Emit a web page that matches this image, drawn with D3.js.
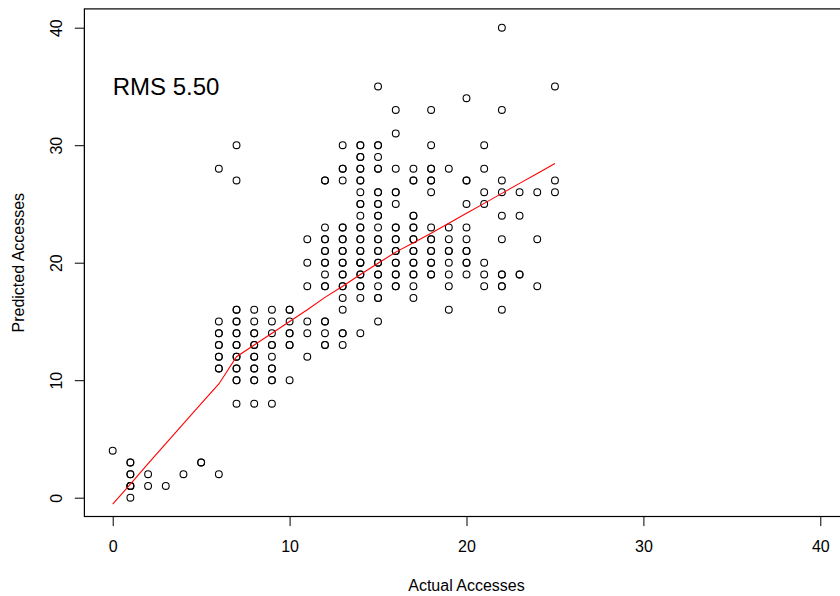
<!DOCTYPE html>
<html>
<head>
<meta charset="utf-8">
<script src="https://cdn.jsdelivr.net/npm/d3@7"></script>
<style>
  html, body { margin: 0; padding: 0; background: #fff; }
  svg { display: block; }
  text { font-family: "Liberation Sans", Arial, Helvetica, sans-serif; fill: #000; }
</style>
</head>
<body>
<svg id="chart" width="840" height="596"></svg>
<script>
// Predicted vs actual accesses, listed column by column (one entry per observation)
const pointColumns = [
  [0,  [4]],
  [1,  [3, 3, 2, 2, 1, 1, 1, 0]],
  [2,  [2, 1]],
  [3,  [1]],
  [4,  [2]],
  [5,  [3, 3]],
  [6,  [28, 15, 14, 14, 13, 13, 12, 12, 11, 11, 2]],
  [7,  [30, 27, 16, 16, 15, 15, 14, 14, 13, 13, 12, 12, 11, 11, 10, 10, 8]],
  [8,  [16, 15, 14, 14, 13, 13, 12, 12, 11, 11, 10, 10, 8]],
  [9,  [16, 15, 14, 13, 13, 12, 11, 11, 10, 10, 8]],
  [10, [16, 16, 15, 14, 14, 13, 13, 10]],
  [11, [22, 20, 18, 15, 14, 12]],
  [12, [27, 27, 23, 22, 22, 21, 21, 20, 20, 19, 18, 18, 15, 15, 14, 13, 13]],
  [13, [30, 28, 28, 27, 23, 23, 22, 22, 21, 21, 20, 20, 19, 19, 18, 18, 17, 16, 14, 14, 13]],
  [14, [30, 30, 29, 29, 28, 28, 27, 27, 26, 25, 25, 24, 23, 23, 22, 22, 21, 21, 20, 20, 20, 19, 19, 18, 18, 17, 14]],
  [15, [35, 30, 30, 29, 28, 28, 26, 26, 25, 25, 24, 24, 23, 22, 22, 21, 21, 20, 20, 19, 19, 18, 17, 17, 15]],
  [16, [33, 31, 28, 26, 26, 25, 23, 23, 22, 22, 21, 21, 20, 20, 19, 19, 18, 18]],
  [17, [28, 27, 27, 24, 24, 23, 23, 22, 22, 21, 21, 20, 20, 19, 19, 18, 17]],
  [18, [33, 30, 28, 28, 27, 27, 26, 23, 22, 22, 21, 21, 20, 20, 19, 19]],
  [19, [28, 23, 22, 21, 21, 20, 19, 18, 16]],
  [20, [34, 27, 27, 25, 23, 22, 21, 21, 20, 20, 19]],
  [21, [30, 28, 26, 25, 20, 19, 18]],
  [22, [40, 33, 27, 26, 24, 22, 19, 19, 18, 18, 16]],
  [23, [26, 24, 19, 19]],
  [24, [26, 22, 18]],
  [25, [35, 27, 26]]
];

// Smoothed trend (lowess) evaluated at each distinct actual value
const smoothX = [0, 1, 2, 3, 4, 5, 6, 7, 8, 9, 10, 11, 12, 13, 14, 15, 16, 17, 18, 19, 20, 21, 22, 23, 24, 25];
const smoothY = [-0.54, 1.15, 2.9, 4.6, 6.3, 8.0, 9.68, 12.0, 13.0, 14.0, 15.0, 16.0, 17.05, 18.0,
                 19.0, 19.95, 20.9, 21.7, 22.5, 23.35, 24.2, 25.05, 25.9, 26.75, 27.6, 28.45];

const xTicks = [0, 10, 20, 30, 40];
const yTicks = [0, 10, 20, 30, 40];
const xTitle = "Actual Accesses";
const yTitle = "Predicted Accesses";
const rmsLabel = "RMS 5.50";

// Flatten the columns into observation records
const points = pointColumns.flatMap(([a, preds]) => preds.map(p => ({ actual: a, predicted: p })));

const svg = d3.select("#chart");

// Plot region (the right side runs past the window edge)
const plot = { left: 84.4, right: 848.6, top: 8.9, bottom: 516.5 };

const x = d3.scaleLinear().domain([-1.6, 41.6]).range([plot.left, plot.right]);
const y = d3.scaleLinear().domain([-1.6, 41.6]).range([plot.bottom, plot.top]);

const fontSize = 16;
const lineH = 1.2 * fontSize;       // one margin line
const tickLen = 0.5 * lineH;

// Bottom axis
const xAxis = d3.axisBottom(x).tickValues(xTicks).tickSize(tickLen).tickPadding(0).tickFormat(d3.format("d"));
const gx = svg.append("g").attr("transform", `translate(0,${plot.bottom})`).call(xAxis);
gx.select(".domain").attr("d", `M${x(xTicks[0])},0H${x(xTicks[xTicks.length - 1])}`)
  .attr("stroke", "#000").attr("stroke-width", 1);
gx.selectAll(".tick line").attr("stroke", "#000").attr("stroke-width", 1);
gx.selectAll(".tick text")
  .attr("y", 35.8).attr("dy", null)
  .attr("font-size", fontSize)
  .attr("font-family", "Liberation Sans, Arial, sans-serif")
  .attr("fill", "#000");

// Left axis (labels parallel to the axis)
const yAxis = d3.axisLeft(y).tickValues(yTicks).tickSize(tickLen).tickFormat(d3.format("d"));
const gy = svg.append("g").attr("transform", `translate(${plot.left},0)`).call(yAxis);
gy.select(".domain").attr("d", `M0,${y(yTicks[0])}V${y(yTicks[yTicks.length - 1])}`)
  .attr("stroke", "#000").attr("stroke-width", 1);
gy.selectAll(".tick line").attr("stroke", "#000").attr("stroke-width", 1);
gy.selectAll(".tick text")
  .attr("x", null).attr("dy", null)
  .attr("transform", "translate(-22.5,0) rotate(-90)")
  .attr("text-anchor", "middle")
  .attr("font-size", fontSize)
  .attr("font-family", "Liberation Sans, Arial, sans-serif")
  .attr("fill", "#000");

// Plot frame
svg.append("rect")
  .attr("x", plot.left).attr("y", plot.top)
  .attr("width", plot.right - plot.left).attr("height", plot.bottom - plot.top)
  .attr("fill", "none").attr("stroke", "#000").attr("stroke-width", 1.2);

// Axis titles, two margin lines beyond the tick labels
svg.append("text")
  .attr("x", (plot.left + plot.right) / 2).attr("y", plot.bottom + 35.8 + 2 * lineH)
  .attr("text-anchor", "middle").attr("font-size", fontSize)
  .text(xTitle);

svg.append("text")
  .attr("transform", `translate(${plot.left - 22.5 - 2 * lineH},${(plot.top + plot.bottom) / 2}) rotate(-90)`)
  .attr("text-anchor", "middle").attr("font-size", fontSize)
  .text(yTitle);

// Observations as open circles
svg.append("g")
  .selectAll("circle")
  .data(points)
  .join("circle")
  .attr("cx", d => x(d.actual))
  .attr("cy", d => y(d.predicted))
  .attr("r", 3.4)
  .attr("fill", "none")
  .attr("stroke", "#000")
  .attr("stroke-width", 1.1);

// Smoothed trend line
const trend = smoothX.map((v, i) => [v, smoothY[i]]);
svg.append("path")
  .datum(trend)
  .attr("fill", "none")
  .attr("stroke", "#ff0000")
  .attr("stroke-width", 1.1)
  .attr("d", d3.line().x(d => x(d[0])).y(d => y(d[1])));

// RMS annotation, left-aligned at actual = 0, centred on predicted = 35
svg.append("text")
  .attr("x", x(0)).attr("y", y(35))
  .attr("dy", "0.36em")
  .attr("font-size", 1.5 * fontSize)
  .text(rmsLabel);
</script>
</body>
</html>
